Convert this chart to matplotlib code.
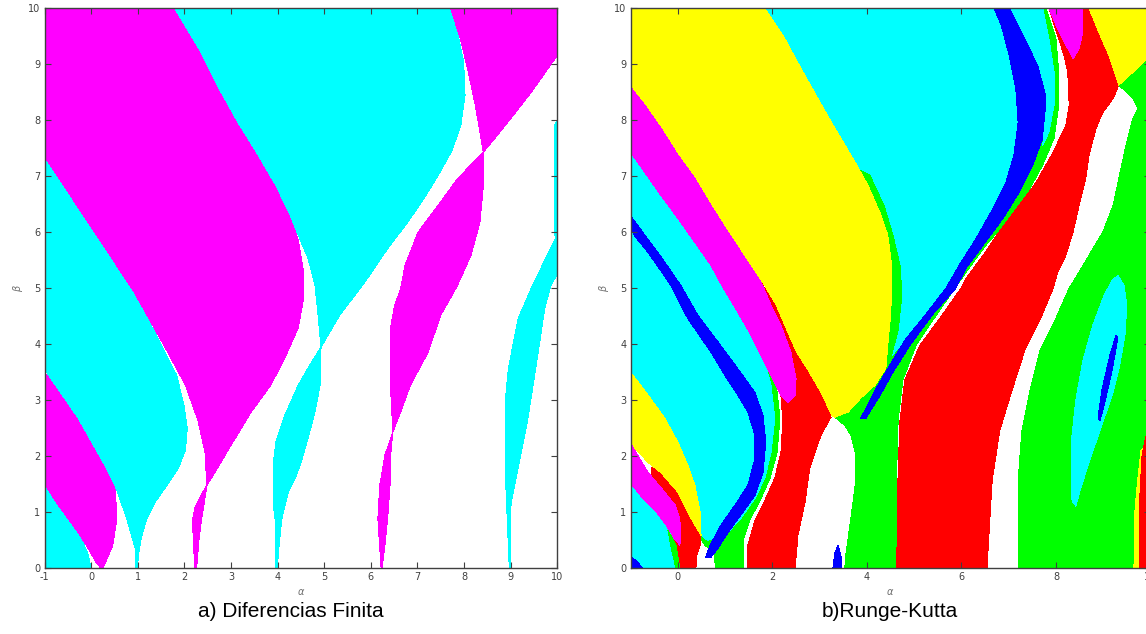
import matplotlib
matplotlib.use('Agg')
import matplotlib.pyplot as plt

plt.rcParams['axes.unicode_minus'] = False

# colores de las cuencas
cian = '#00ffff'
magenta = '#ff00ff'
amarillo = '#ffff00'
rojo = '#ff0000'
verde = '#00ff00'
azul = '#0000ff'

# ---------------- a) Diferencias Finita: fronteras (alpha, beta) ----------------
fd_cyan_bl = [(-1, 0), (-1, 1.5), (-0.71, 1.1), (-0.43, 0.77), (-0.22, 0.54), (-0.07, 0.25),
              (-0.03, 0.1), (-0.01, 0)]
fd_mag_low = [(-1, 1.5), (-1, 3.5), (-0.28, 2.68), (0.29, 1.84), (0.51, 1.48), (0.55, 0.89),
              (0.46, 0.41), (0.25, 0), (0.21, 0), (0.10, 0.11), (-0.07, 0.36), (-0.28, 0.64),
              (-0.71, 1.13)]
fd_cyan_mid = [(-1, 3.55), (-1, 7.35), (0.90, 4.96), (1.58, 3.86), (1.83, 3.45), (1.99, 2.91),
               (2.06, 2.50), (2.02, 2.11), (1.87, 1.79), (1.62, 1.48), (1.37, 1.18), (1.18, 0.86),
               (1.07, 0.54), (1.01, 0.23), (0.99, 0), (0.95, 0), (0.94, 0.36), (0.76, 0.89),
               (0.51, 1.48), (0.29, 1.84), (-0.28, 2.68)]
fd_mag_big = [(-1, 10), (1.79, 10), (2.33, 9.25), (2.76, 8.54), (3.15, 7.96), (3.58, 7.38),
              (3.96, 6.84), (4.27, 6.30), (4.44, 5.86), (4.55, 5.32), (4.55, 4.79), (4.44, 4.29),
              (4.15, 3.75), (3.85, 3.27), (3.43, 2.79), (3.00, 2.20), (2.65, 1.71), (2.48, 1.48),
              (2.44, 2.07), (2.29, 2.64), (2.02, 3.27), (1.64, 3.86), (0.90, 4.96), (-1, 7.35)]
fd_mag_tooth = [(2.48, 1.48), (2.43, 1.2), (2.37, 0.9), (2.31, 0.5), (2.26, 0), (2.22, 0),
                (2.19, 0.5), (2.17, 0.85), (2.23, 1.1), (2.35, 1.3)]
fd_cyan_big = [(1.79, 10), (7.69, 10), (7.86, 9.57), (7.99, 9.04), (8.02, 8.45), (7.93, 7.91),
               (7.74, 7.46), (7.48, 7.07), (7.16, 6.63), (6.79, 6.18), (6.36, 5.71), (5.87, 5.11),
               (5.33, 4.52), (4.93, 3.95), (4.86, 4.57), (4.80, 5.05), (4.65, 5.54), (4.44, 5.95),
               (4.27, 6.30), (3.96, 6.84), (3.58, 7.38), (3.15, 7.96), (2.76, 8.54), (2.33, 9.25)]
fd_cyan_low = [(4.93, 3.95), (4.91, 3.27), (4.80, 2.79), (4.65, 2.32), (4.50, 1.89), (4.38, 1.61),
               (4.23, 1.36), (4.09, 0.89), (4.03, 0.41), (3.99, 0), (3.96, 0), (3.96, 0.77),
               (3.90, 1.18), (3.90, 1.84), (3.96, 2.25), (4.15, 2.73), (4.44, 3.27), (4.69, 3.63)]
fd_mag_mid = [(8.41, 7.43), (7.86, 6.96), (7.44, 6.48), (7.01, 6.00), (6.73, 5.41), (6.64, 5.00),
              (6.51, 4.70), (6.43, 4.34), (6.43, 3.57), (6.43, 3.09), (6.47, 2.43), (6.64, 2.79),
              (6.85, 3.27), (7.23, 3.86), (7.50, 4.52), (7.84, 5.02), (8.15, 5.59), (8.34, 6.18),
              (8.41, 6.79)]
fd_mag_mid_low = [(6.47, 2.43), (6.43, 2.07), (6.41, 1.48), (6.36, 0.89), (6.30, 0.41), (6.24, 0),
                  (6.22, 0), (6.19, 0.36), (6.15, 0.89), (6.19, 1.48), (6.30, 2.02)]
fd_mag_tr = [(7.71, 10), (10, 10), (10, 9.16), (9.44, 8.50), (9.01, 8.04), (8.66, 7.68),
             (8.41, 7.43), (8.34, 7.79), (8.24, 8.27), (8.09, 8.86), (7.92, 9.46)]
fd_cyan_r = [(8.97, 0), (8.88, 1.79), (8.88, 2.96), (8.95, 3.57), (9.16, 4.46), (9.44, 5.00),
             (9.73, 5.50), (10, 5.95), (10, 5.25), (9.86, 5.05), (9.73, 4.64), (9.59, 3.86),
             (9.37, 2.68), (9.16, 1.79), (9.01, 1.18), (8.99, 0.89), (8.99, 0)]
fd_cyan_edge = [(9.93, 7.9), (10, 8.0), (10, 5.9), (9.95, 5.95), (9.93, 6.5)]

# ---------------- b) Runge-Kutta: fronteras (alpha, beta) ----------------
rk_green_right = [(9.33, 8.63), (9.63, 8.86), (10, 9.16), (10, 0), (7.20, 0), (7.20, 1.57),
                  (7.28, 2.46), (7.45, 3.18), (7.66, 3.89), (7.98, 4.43), (8.28, 5.00), (8.49, 5.29),
                  (8.70, 5.59), (8.99, 6.00), (9.21, 6.48), (9.33, 6.96), (9.48, 7.55), (9.63, 8.04),
                  (9.74, 8.21), (9.63, 8.39)]
rk_green_mid = [(3.53, 0), (4.63, 0), (4.63, 1.75), (4.66, 2.64), (4.76, 3.36), (5.04, 3.98),
                (5.42, 4.46), (5.86, 5.00), (6.16, 5.36), (6.52, 5.77), (6.94, 6.18), (7.37, 6.66),
                (7.72, 7.20), (7.96, 7.68), (8.06, 8.27), (8.06, 8.86), (8.00, 9.46), (7.79, 10),
                (6.81, 10), (4.70, 4.79), (3.85, 3.36), (3.32, 2.70), (3.53, 2.55), (3.66, 2.38),
                (3.75, 2.07), (3.75, 1.48), (3.66, 0.89), (3.56, 0.29)]
rk_red_big = [(7.85, 10), (8.70, 10), (8.91, 9.57), (9.12, 9.16), (9.33, 8.63), (9.21, 8.39),
              (8.99, 8.14), (8.85, 7.86), (8.70, 7.38), (8.63, 6.96), (8.49, 6.48), (8.36, 6.00),
              (8.21, 5.59), (8.04, 5.29), (7.94, 5.00), (7.66, 4.43), (7.34, 3.89), (7.07, 3.18),
              (6.81, 2.46), (6.65, 1.57), (6.54, 0), (4.63, 0), (4.66, 1.75), (4.70, 2.64),
              (4.80, 3.36), (5.12, 3.98), (5.54, 4.46), (5.99, 5.00), (6.10, 5.18), (6.46, 5.59),
              (6.79, 6.00), (7.22, 6.48), (7.58, 6.89), (7.94, 7.43), (8.21, 7.91), (8.28, 8.27),
              (8.25, 8.86), (8.17, 9.16), (8.00, 9.61)]
rk_yellow_tr = [(8.70, 10), (10, 10), (10, 9.16), (9.63, 8.86), (9.33, 8.63), (9.12, 9.16),
                (8.91, 9.57)]
rk_mag_top = [(7.85, 10), (8.00, 9.70), (8.21, 9.34), (8.36, 9.11), (8.38, 9.11), (8.49, 9.29),
              (8.57, 9.57), (8.57, 10)]
rk_cyan_big = [(1.74, 10), (6.69, 10), (6.84, 9.70), (7.01, 9.16), (7.15, 8.57), (7.20, 7.96),
               (7.11, 7.38), (6.94, 6.89), (6.67, 6.43), (6.31, 5.89), (5.95, 5.41), (5.67, 5.00),
               (5.23, 4.52), (4.80, 4.07), (4.53, 3.80), (4.28, 4.07), (4.06, 5.68)]
rk_green_ystrip = [(3.85, 7.11), (4.06, 7.02), (4.36, 6.48), (4.55, 5.95), (4.70, 5.41),
                   (4.74, 4.88), (4.66, 4.25), (4.49, 3.71), (4.28, 3.36), (3.85, 3.36)]
rk_yellow_big = [(-1, 10), (1.84, 10), (2.26, 9.46), (2.60, 8.93), (2.96, 8.39), (3.32, 7.86),
                 (3.75, 7.25), (4.02, 6.84), (4.30, 6.30), (4.44, 5.95), (4.51, 5.50), (4.53, 4.96),
                 (4.49, 4.43), (4.44, 3.98), (4.40, 3.57), (4.17, 3.27), (3.87, 3.04), (3.60, 2.79),
                 (3.32, 2.70), (3.24, 2.73), (3.03, 3.09), (2.75, 3.50), (2.48, 3.86), (2.26, 4.29),
                 (2.05, 4.70), (1.84, 5.05), (1.76, 5.11), (1.42, 5.54), (1.06, 6.00), (0.70, 6.48),
                 (0.36, 6.96), (0.00, 7.38), (-0.36, 7.86), (-0.70, 8.27), (-1, 8.59)]
rk_blue_diag = [(6.69, 10), (6.84, 9.70), (7.01, 9.16), (7.15, 8.57), (7.20, 7.96), (7.11, 7.38),
                (6.94, 6.89), (6.67, 6.43), (6.31, 5.89), (5.95, 5.41), (5.67, 5.00), (5.23, 4.52),
                (4.80, 4.07), (4.44, 3.57), (4.17, 3.18), (3.87, 2.68), (3.98, 2.68), (4.28, 3.09),
                (4.55, 3.50), (4.91, 3.98), (5.38, 4.52), (5.88, 5.00), (6.10, 5.36), (6.46, 5.77),
                (6.88, 6.25), (7.22, 6.71), (7.51, 7.20), (7.72, 7.68), (7.79, 8.14), (7.79, 8.50),
                (7.64, 8.98), (7.37, 9.46), (7.05, 10)]
rk_cyan_strip = [(7.05, 10), (7.72, 10), (7.85, 9.46), (7.96, 8.86), (7.96, 8.27), (7.85, 7.79),
                 (7.72, 7.55), (7.79, 8.14), (7.79, 8.50), (7.64, 8.98), (7.37, 9.46)]
rk_red_mid = [(1.42, 5.54), (1.76, 5.11), (2.05, 4.70), (2.26, 4.29), (2.48, 3.86), (2.75, 3.50),
              (3.03, 3.09), (3.24, 2.70), (3.03, 2.38), (2.90, 2.07), (2.79, 1.79), (2.69, 1.18),
              (2.54, 0.59), (2.48, 0), (1.48, 0), (1.48, 0.41), (1.63, 0.86), (1.84, 1.21),
              (2.05, 1.61), (2.18, 2.07), (2.22, 2.64), (2.18, 3.09), (1.95, 3.54), (1.63, 4.16),
              (1.31, 4.79)]
rk_green_ml = [(1.10, 4.79), (1.42, 3.00), (1.10, 1.57), (0.47, 0.95), (0.44, 0.59), (0.57, 0.41),
               (0.76, 0.29), (0.80, 0), (1.38, 0), (1.38, 0.50), (1.52, 0.86), (1.74, 1.21),
               (1.95, 1.61), (2.10, 2.07), (2.16, 2.68), (2.07, 3.36), (1.74, 4.07), (1.27, 4.61)]
rk_cyan_ml = [(-1, 7.43), (-0.70, 7.07), (-0.36, 6.66), (0.00, 6.25), (0.36, 5.82), (0.70, 5.41),
              (0.95, 5.02), (1.27, 4.57), (1.63, 4.04), (1.84, 3.68), (1.97, 3.27), (2.05, 2.68),
              (1.97, 2.07), (1.84, 1.61), (1.63, 1.25), (1.33, 0.89), (1.06, 0.64), (0.78, 0.54),
              (0.63, 0.50), (0.49, 0.59), (0.47, 1.00), (0.36, 1.48), (0.21, 1.84), (0.00, 2.25),
              (-0.28, 2.68), (-0.63, 3.09), (-1, 3.50)]
rk_mag_ul = [(-1, 8.59), (-0.70, 8.27), (-0.36, 7.86), (0.00, 7.38), (0.36, 6.96), (0.70, 6.48),
             (1.06, 6.00), (1.42, 5.54), (1.76, 5.11), (1.97, 4.70), (2.18, 4.34), (2.39, 3.86),
             (2.50, 3.39), (2.48, 3.09), (2.33, 2.96), (2.18, 3.09), (1.97, 3.45), (1.76, 3.80),
             (1.55, 4.16), (1.27, 4.57), (0.95, 5.02), (0.70, 5.41), (0.36, 5.82), (0.00, 6.25),
             (-0.36, 6.66), (-0.70, 7.07), (-1, 7.43)]
rk_blue_ml = [(-1, 6.29), (-0.70, 5.95), (-0.38, 5.59), (0.06, 5.05), (0.42, 4.52), (0.85, 4.04),
              (1.21, 3.63), (1.63, 3.14), (1.80, 2.73), (1.86, 2.25), (1.80, 1.71), (1.63, 1.30),
              (1.33, 0.95), (1.06, 0.64), (0.85, 0.36), (0.70, 0.20), (0.59, 0.20), (0.68, 0.41),
              (0.91, 0.77), (1.21, 1.13), (1.48, 1.48), (1.63, 1.96), (1.63, 2.38), (1.48, 2.79),
              (1.27, 3.09), (0.99, 3.45), (0.70, 3.86), (0.21, 4.46), (-0.15, 5.05), (-0.34, 5.29),
              (-0.63, 5.64), (-0.91, 5.93), (-1, 6.11)]
rk_red_ll = [(-0.55, 1.80), (-0.36, 1.71), (0.00, 1.36), (0.21, 1.00), (0.36, 0.77), (0.47, 0.59),
             (0.47, 0.41), (0.40, 0.23), (0.38, 0), (0.06, 0), (0.02, 0.23), (-0.06, 0.50),
             (-0.17, 0.86), (-0.38, 1.30), (-0.55, 1.62)]
rk_yellow_ll = [(-1, 3.50), (-0.63, 3.09), (-0.28, 2.68), (0.00, 2.25), (0.21, 1.84), (0.36, 1.48),
                (0.47, 1.00), (0.49, 0.59), (0.36, 0.77), (0.21, 1.00), (0.00, 1.36), (-0.36, 1.71),
                (-0.63, 1.89), (-1, 2.23)]
rk_mag_ll = [(-1, 2.23), (-0.63, 1.71), (-0.28, 1.36), (-0.06, 1.13), (0.04, 0.89), (0.06, 0.54),
             (0.04, 0.41), (0.00, 0.46), (-0.15, 0.59), (-0.28, 0.77), (-0.49, 1.00), (-0.78, 1.25),
             (-1, 1.48)]
rk_cyan_bl = [(-1, 1.48), (-0.78, 1.25), (-0.49, 1.00), (-0.28, 0.77), (-0.15, 0.59), (-0.08, 0.32),
              (-0.04, 0), (-0.74, 0), (-0.89, 0.14), (-1, 0.20)]
rk_blue_bl = [(-1, 0.20), (-0.89, 0.14), (-0.74, 0), (-1, 0)]
rk_green_bl = [(-0.21, 0.68), (-0.04, 0.41), (0.04, 0), (-0.04, 0), (-0.13, 0.32)]
rk_blue_sp = [(3.28, 0), (3.32, 0.27), (3.39, 0.41), (3.45, 0.23), (3.47, 0)]
rk_cyan_ell = [(9.31, 5.23), (9.44, 5.05), (9.50, 4.70), (9.46, 4.16), (9.35, 3.63), (9.19, 3.09),
               (8.93, 2.46), (8.68, 1.84), (8.51, 1.39), (8.42, 1.11), (8.34, 1.21), (8.32, 1.75),
               (8.34, 2.38), (8.42, 3.00), (8.57, 3.71), (8.78, 4.34), (9.02, 4.88), (9.19, 5.14)]
rk_blue_ell = [(9.27, 4.16), (9.31, 4.11), (9.19, 3.54), (9.02, 2.91), (8.93, 2.64), (8.89, 2.68),
               (8.97, 3.18), (9.14, 3.80)]
rk_yellow_br = [(9.65, 0), (9.67, 1.0), (9.72, 1.5), (9.80, 2.1), (10, 2.3), (10, 0)]
rk_red_br = [(9.76, 0), (9.77, 1.2), (9.82, 2.0), (9.90, 2.35), (10, 2.45), (10, 0)]

# orden de pintado (lo ultimo queda encima)
capas_fd = [(fd_cyan_bl, cian), (fd_mag_low, magenta), (fd_cyan_mid, cian), (fd_mag_big, magenta),
            (fd_mag_tooth, magenta), (fd_cyan_big, cian), (fd_cyan_low, cian), (fd_mag_mid, magenta),
            (fd_mag_mid_low, magenta), (fd_mag_tr, magenta), (fd_cyan_r, cian), (fd_cyan_edge, cian)]
capas_rk = [(rk_green_right, verde), (rk_green_mid, verde), (rk_red_big, rojo),
            (rk_yellow_tr, amarillo), (rk_mag_top, magenta), (rk_cyan_big, cian),
            (rk_green_ystrip, verde), (rk_yellow_big, amarillo), (rk_blue_diag, azul),
            (rk_cyan_strip, cian), (rk_red_mid, rojo), (rk_green_ml, verde), (rk_cyan_ml, cian),
            (rk_mag_ul, magenta), (rk_blue_ml, azul), (rk_red_ll, rojo), (rk_yellow_ll, amarillo),
            (rk_mag_ll, magenta), (rk_cyan_bl, cian), (rk_blue_bl, azul), (rk_green_bl, verde),
            (rk_blue_sp, azul), (rk_cyan_ell, cian), (rk_blue_ell, azul), (rk_yellow_br, amarillo),
            (rk_red_br, rojo)]

xticks_fd = list(range(-1, 11))
xticks_rk = [0, 2, 4, 6, 8, 10]
yticks = list(range(0, 11))

gris = '#404040'
fuente_titulo = ['Liberation Sans Narrow', 'Liberation Sans', 'DejaVu Sans']


def pinta(ax, capas, xticks):
    for poli, cor in capas:
        xs = [p[0] for p in poli]
        ys = [p[1] for p in poli]
        ax.fill(xs, ys, color=cor, lw=0, antialiased=False)
    ax.set_xlim(-1, 10)
    ax.set_ylim(0, 10)
    ax.set_xticks(xticks)
    ax.set_yticks(yticks)
    ax.tick_params(direction='in', top=True, right=True, length=4, width=0.8,
                   color=gris, labelcolor=gris, labelsize=7, pad=3)
    for s in ax.spines.values():
        s.set_color(gris)
        s.set_linewidth(1)
    ax.set_xlabel(r'$\alpha$', fontsize=7, color='#707070', labelpad=3)
    ax.set_ylabel(r'$\beta$', fontsize=7, color='#707070', labelpad=2)


fig = plt.figure(figsize=(11.46, 6.34), dpi=100)
ax1 = fig.add_axes([0.0390, 0.1036, 0.4473, 0.8833])
ax2 = fig.add_axes([0.5503, 0.1036, 0.4536, 0.8833])

pinta(ax1, capas_fd, xticks_fd)
pinta(ax2, capas_rk, xticks_rk)

fig.text(0.2535, 0.035, 'a) Diferencias Finita', ha='center', va='center',
         fontsize=15, family=fuente_titulo)
fig.text(0.7765, 0.035, 'b)Runge-Kutta', ha='center', va='center',
         fontsize=15, family=fuente_titulo)

fig.savefig('out.png', dpi=100)
